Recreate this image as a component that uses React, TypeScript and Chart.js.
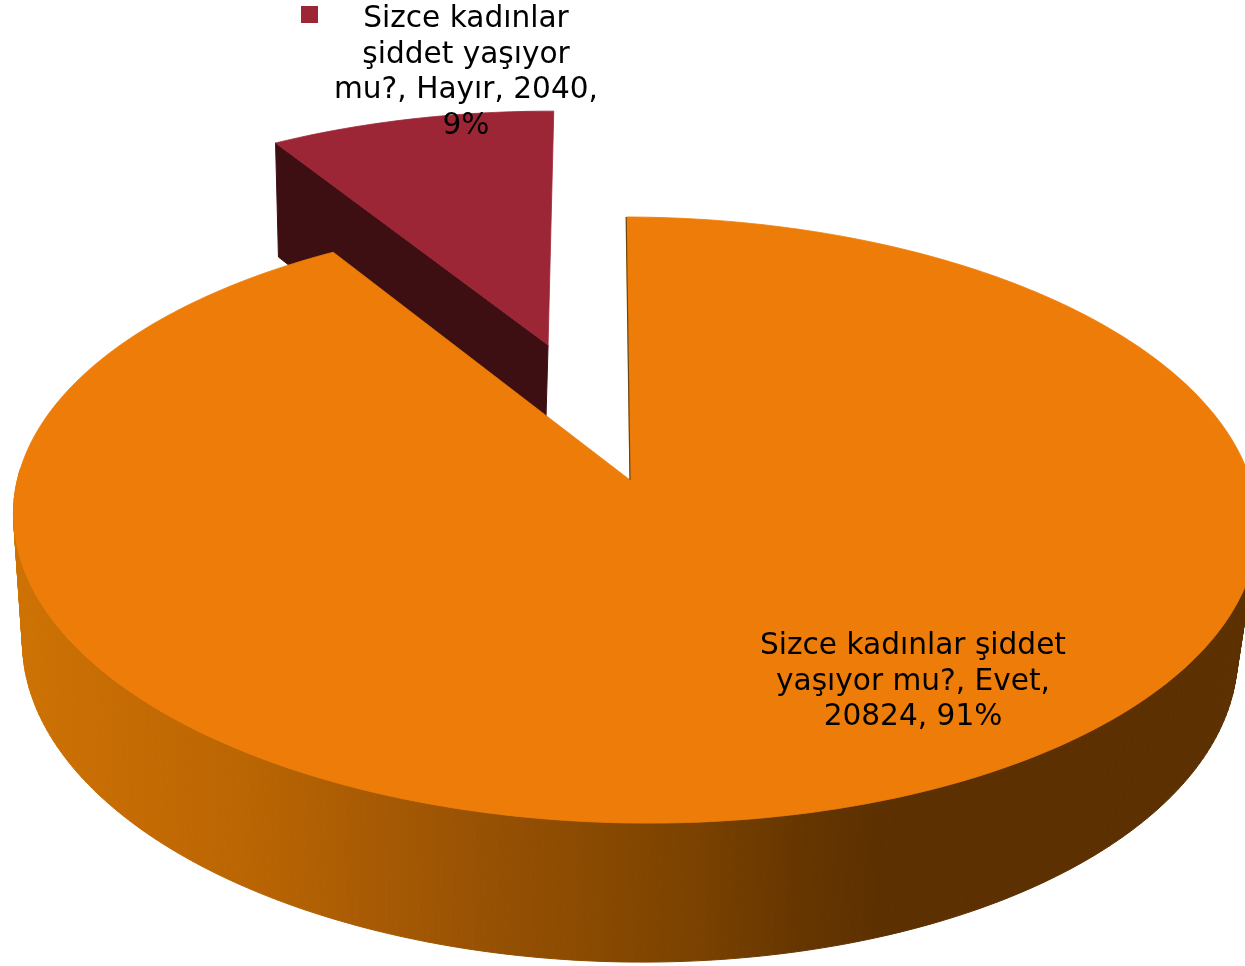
import React, { useEffect, useRef } from "react";
import { Chart, registerables } from "chart.js";

Chart.register(...registerables);

const categories = ["Evet", "Hayır"];
const seriesValues = [20824, 2040];
const explodePercent = [0, 50];
const topColors = ["#ED7D08", "#9C2635"];
const faceColors = ["#6A4510", "#3D0F13"];
const evetLabelLines = ["Sizce kadınlar şiddet", "yaşıyor mu?, Evet,", "20824, 91%"];
const hayirLabelLines = ["Sizce kadınlar", "şiddet yaşıyor", "mu?, Hayır, 2040,", "9%"];
const wallStops: [number, string][] = [
  [13, "#CE7204"],
  [130, "#C56B03"],
  [250, "#BA6503"],
  [400, "#A45803"],
  [500, "#955003"],
  [580, "#8B4B01"],
  [700, "#7A4100"],
  [800, "#663600"],
  [880, "#5C3000"],
  [1245, "#5C3000"],
];

const W = 1245;
const H = 966;
const FONT = '29.6px "DejaVu Sans"';

// Perspective projection of the unit disc (the pie top) on the page.
function project(u: number, v: number) {
  const w = 1 - 0.132 * v - 0.008 * u;
  return { x: 630 + (616.6 * u + 4 * v) / w, y: (480 + 234.4 * v) / w };
}
function drop(p: { x: number; y: number }) {
  return { x: 0.9767 * p.x + 9.3, y: 1.0368 * p.y + 108.7 };
}

const pie3d = {
  id: "pie3d",
  beforeDatasetsDraw(chart: any) {
    const ctx: CanvasRenderingContext2D = chart.ctx;
    const arcs = chart.getDatasetMeta(0).data;
    const grad = ctx.createLinearGradient(0, 0, W, 0);
    wallStops.forEach(([x, c]) => grad.addColorStop(x / W, c));

    [1, 0].forEach((i) => {
      const arc = arcs[i];
      const { startAngle, endAngle } = arc.getProps(["startAngle", "endAngle"], true);
      const off = arc.options.offset / 100;
      const mid = (startAngle + endAngle) / 2;
      const cu = Math.cos(mid) * off;
      const cv = Math.sin(mid) * off;
      const steps = Math.max(24, Math.round((endAngle - startAngle) * 60));
      const rim: { x: number; y: number }[] = [];
      for (let s = 0; s <= steps; s++) {
        const a = startAngle + ((endAngle - startAngle) * s) / steps;
        rim.push(project(cu + Math.cos(a), cv + Math.sin(a)));
      }
      const apex = project(cu, cv);
      const wallFill = i === 0 ? grad : faceColors[1];
      ctx.save();
      ctx.fillStyle = wallFill;
      ctx.strokeStyle = wallFill;
      ctx.lineWidth = 1;
      const quad = (a: any, b: any) => {
        const c = drop(b);
        const d = drop(a);
        ctx.beginPath();
        ctx.moveTo(a.x, a.y);
        ctx.lineTo(b.x, b.y);
        ctx.lineTo(c.x, c.y);
        ctx.lineTo(d.x, d.y);
        ctx.closePath();
        ctx.fill();
        ctx.stroke();
      };
      if (i === 1) {
        // only the cut face turned to the viewer shows on the exploded slice
        quad(apex, rim[0]);
      } else {
        // the curved wall shows only on the near side of the rim
        for (let s = 0; s < steps; s++) {
          if (rim[s].y > 470 || rim[s + 1].y > 470) quad(rim[s], rim[s + 1]);
        }
      }

      ctx.beginPath();
      ctx.moveTo(apex.x, apex.y);
      rim.forEach((p) => ctx.lineTo(p.x, p.y));
      ctx.closePath();
      ctx.fillStyle = arc.options.backgroundColor;
      ctx.strokeStyle = arc.options.backgroundColor;
      ctx.lineWidth = 0.8;
      ctx.fill();
      ctx.stroke();
      if (i === 0) {
        ctx.beginPath();
        ctx.moveTo(rim[0].x - 0.3, rim[0].y);
        ctx.lineTo(apex.x, apex.y);
        ctx.strokeStyle = faceColors[0];
        ctx.lineWidth = 1.2;
        ctx.stroke();
      }
      ctx.restore();
    });
    return false;
  },
  afterDraw(chart: any) {
    const ctx: CanvasRenderingContext2D = chart.ctx;
    ctx.save();
    ctx.font = FONT;
    ctx.fillStyle = "#000000";
    ctx.textAlign = "center";
    ctx.textBaseline = "alphabetic";
    evetLabelLines.forEach((t, i) => ctx.fillText(t, 913, 654 + i * 35.5));
    hayirLabelLines.forEach((t, i) => ctx.fillText(t, 466, 27 + i * 35.5));
    ctx.fillStyle = topColors[1];
    ctx.fillRect(301, 6, 17, 17);
    ctx.restore();
  },
};

export default function App() {
  const ref = useRef<HTMLCanvasElement>(null);
  useEffect(() => {
    const chart = new Chart(ref.current as HTMLCanvasElement, {
      type: "pie",
      data: {
        labels: categories,
        datasets: [
          {
            label: "Sizce kadınlar şiddet yaşıyor mu?",
            data: seriesValues,
            backgroundColor: topColors,
            offset: explodePercent,
            borderWidth: 0,
          },
        ],
      },
      options: {
        responsive: false,
        animation: false,
        plugins: { legend: { display: false }, tooltip: { enabled: false } },
      },
      plugins: [pie3d],
    } as any);
    return () => chart.destroy();
  }, []);
  return (
    <div style={{ position: "absolute", left: 0, top: 0, width: W, height: H, background: "#fff" }}>
      <canvas ref={ref} width={W} height={H} style={{ display: "block" }} />
    </div>
  );
}
